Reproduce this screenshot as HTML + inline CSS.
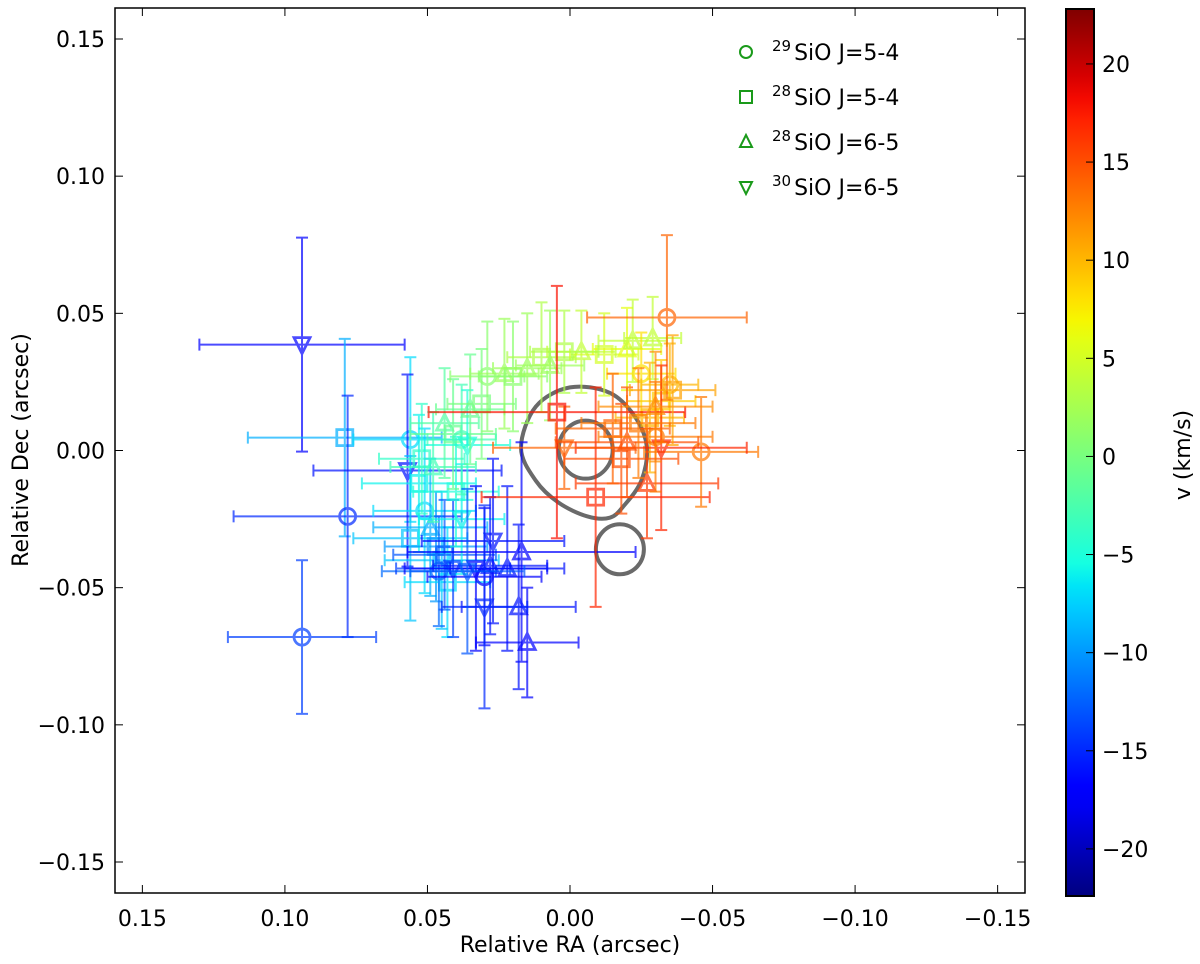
<!DOCTYPE html>
<html><head><meta charset="utf-8"><style>
html,body{margin:0;padding:0;background:#fff;}
svg{display:block;font-family:"DejaVu Sans","Liberation Sans",sans-serif;}
</style></head><body>
<svg id="chart" width="1200" height="964" xmlns="http://www.w3.org/2000/svg">
<defs>
<linearGradient id="jet" x1="0" y1="1" x2="0" y2="0"></linearGradient>
<clipPath id="pc"><rect x="115" y="8" width="910" height="885"/></clipPath>
</defs>
<g id="plot" clip-path="url(#pc)"></g>
<g id="axes"></g>
</svg>
<script>
const raVals =  [0.094,0.079,0.056,0.078,0.094,0.057,0.056,0.053,0.051,0.049,0.047,0.045,0.043,0.046,0.044,0.041,0.038,0.040,0.048,0.052,0.044,0.041,0.038,0.036,0.035,0.031,0.029,0.023,0.020,0.015,0.010,0.007,0.033,0.030,0.028,0.027,0.017,0.022,0.018,0.015,0.030,0.036,-0.004,-0.012,-0.020,-0.022,-0.029,0.002,-0.025,-0.035,-0.032,-0.028,-0.034,-0.009,-0.046,-0.027,-0.032,0.002,0.0046,-0.015,-0.020,-0.024,-0.030,-0.018,-0.036,-0.030];
const decVals = [0.0386,0.0047,0.004,-0.024,-0.068,-0.0073,-0.032,-0.012,-0.022,-0.028,-0.035,-0.040,-0.048,-0.044,-0.038,-0.043,-0.025,-0.015,-0.006,-0.003,0.010,0.006,0.004,0.002,0.015,0.017,0.027,0.028,0.027,0.030,0.034,0.031,-0.043,-0.046,-0.042,-0.033,-0.037,-0.043,-0.057,-0.070,-0.057,-0.044,0.036,0.035,0.037,0.040,0.041,0.036,0.028,0.024,0.018,0.012,0.0485,-0.017,-0.0005,-0.012,0.001,0.001,0.014,0.008,0.003,0.010,0.016,-0.003,0.022,0.005];
const velVals = [-17,-9,-7,-15,-14,-16,-8,-6,-7,-9,-10,-8,-7,-12,-13,-14,-6,-5,-3,-4,-2,-1,-3,-5,-1,0,1,2,1,2,3,2,-17,-17,-16,-16,-17,-16,-16,-17,-15,-13,4,5,6,4,4,3,8,10,9,10,14,17,13,16,17,14,18,14,15,13,12,15,11,13];
const markers = ['v','s','o','o','o','v','s','s','o','t','s','s','s','o','s','v','v','s','t','s','t','s','o','v','t','s','o','t','s','t','s','t','v','o','t','v','t','t','t','t','v','v','t','s','t','t','t','s','o','o','s','s','o','s','o','t','v','v','s','s','t','s','t','s','s','o'];
const raErr =  [0.036,0.034,0.020,0.040,0.026,0.033,0.020,0.02,0.018,0.02,0.018,0.02,0.015,0.02,0.018,0.02,0.015,0.015,0.015,0.015,0.012,0.015,0.012,0.015,0.012,0.012,0.013,0.012,0.012,0.012,0.012,0.012,0.025,0.02,0.02,0.025,0.04,0.02,0.02,0.018,0.015,0.02,0.012,0.012,0.012,0.012,0.01,0.012,0.012,0.01,0.012,0.012,0.028,0.04,0.02,0.025,0.03,0.025,0.045,0.02,0.025,0.02,0.02,0.02,0.015,0.02];
const decErr = [0.039,0.036,0.030,0.044,0.028,0.035,0.030,0.025,0.03,0.025,0.02,0.025,0.02,0.02,0.02,0.025,0.02,0.02,0.02,0.02,0.02,0.02,0.02,0.02,0.02,0.02,0.02,0.02,0.02,0.02,0.02,0.02,0.03,0.025,0.025,0.03,0.04,0.03,0.03,0.02,0.037,0.03,0.015,0.015,0.015,0.015,0.015,0.015,0.015,0.015,0.015,0.02,0.030,0.04,0.02,0.02,0.03,0.015,0.046,0.02,0.02,0.02,0.02,0.02,0.02,0.02];
const xTicks = [0.15,0.10,0.05,0.00,-0.05,-0.10,-0.15];
const yTicks = [0.15,0.10,0.05,0.00,-0.05,-0.10,-0.15];
const cTicks = [20,15,10,5,0,-5,-10,-15,-20];

const NS='http://www.w3.org/2000/svg';
const L=115,R=1025,T=8,B=893;
const XMIN=0.1596,XMAX=-0.1596,YMAX=0.1613,YMIN=-0.1613;
const VMIN=-22.4,VMAX=22.8,CT=9,CB=896;
function xS(v){return L+(XMIN-v)/(XMIN-XMAX)*(R-L);}
function yS(v){return T+(YMAX-v)/(YMAX-YMIN)*(B-T);}
function cS(v){return CT+(VMAX-v)/(VMAX-VMIN)*(CB-CT);}
function interp(segs,t){for(let i=1;i<segs.length;i++){if(t<=segs[i][0]){const a=segs[i-1],b=segs[i];return a[1]+(b[1]-a[1])*(t-a[0])/(b[0]-a[0]);}}return segs[segs.length-1][1];}
const RS=[[0,0],[0.35,0],[0.66,1],[0.89,1],[1,0.5]];
const GS=[[0,0],[0.125,0],[0.375,1],[0.64,1],[0.91,0],[1,0]];
const BS=[[0,0.5],[0.11,1],[0.34,1],[0.65,0],[1,0]];
function jetT(t){t=Math.max(0,Math.min(1,t));const c=x=>Math.round(255*x);return `rgb(${c(interp(RS,t))},${c(interp(GS,t))},${c(interp(BS,t))})`;}
function jet(v){return jetT((v-VMIN)/(VMAX-VMIN));}
function mk(tag,attrs,parent){const e=document.createElementNS(NS,tag);for(const k in attrs)e.setAttribute(k,attrs[k]);parent.appendChild(e);return e;}
const grad=document.getElementById('jet');
for(let i=0;i<=40;i++){mk('stop',{offset:i/40,'stop-color':jetT(i/40)},grad);}
const plot=document.getElementById('plot'),axes=document.getElementById('axes');

// contours
const cg=mk('g',{fill:'none',stroke:'#6a6a6a','stroke-width':4},plot);


const outer=[[0.0172,0.001],[0.012,0.016],[0.000,0.023],[-0.014,0.021],[-0.023,0.012],[-0.027,0.001],[-0.025,-0.011],[-0.019,-0.020],[-0.014,-0.0245],[-0.006,-0.024],[0.004,-0.019],[0.012,-0.011]];
function smooth(pts){
  const P=pts.map(p=>[xS(p[0]),yS(p[1])]);const n=P.length;let d=`M${P[0][0].toFixed(1)},${P[0][1].toFixed(1)}`;
  for(let i=0;i<n;i++){const p0=P[(i-1+n)%n],p1=P[i],p2=P[(i+1)%n],p3=P[(i+2)%n];
    const c1=[p1[0]+(p2[0]-p0[0])/6,p1[1]+(p2[1]-p0[1])/6],c2=[p2[0]-(p3[0]-p1[0])/6,p2[1]-(p3[1]-p1[1])/6];
    d+=` C${c1[0].toFixed(1)},${c1[1].toFixed(1)} ${c2[0].toFixed(1)},${c2[1].toFixed(1)} ${p2[0].toFixed(1)},${p2[1].toFixed(1)}`;}
  return d+'Z';}
const p1=mk('path',{d:smooth(outer)},cg);


const c2=mk('ellipse',{cx:xS(-0.0055),cy:yS(0.0003),rx:27,ry:29},cg);


const c3=mk('ellipse',{cx:xS(-0.0175),cy:yS(-0.036),rx:24,ry:25},cg);



function marker(type,cx,cy,col,g,legend){
  const s=legend?6:8;let e;
  const a={fill:'none',stroke:col,'stroke-width':legend?2:2.8};
  if(type==='o')e=mk('circle',Object.assign({cx:cx,cy:cy,r:s},a),g);
  else if(type==='s')e=mk('rect',Object.assign({x:cx-s,y:cy-s,width:2*s,height:2*s},a),g);
  else if(type==='t')e=mk('polygon',Object.assign({points:`${cx},${cy-s-1} ${cx-s},${cy+s-1} ${cx+s},${cy+s-1}`},a),g);
  else e=mk('polygon',Object.assign({points:`${cx},${cy+s+1} ${cx-s},${cy-s+1} ${cx+s},${cy-s+1}`},a),g);
  return e;
}
for(let i=0;i<raVals.length;i++){
  const col=jet(velVals[i]);
  const g=mk('g',{opacity:0.7,stroke:col,'stroke-width':2},plot);
  
  
  const x=xS(raVals[i]),y=yS(decVals[i]);
  const x1=xS(raVals[i]+raErr[i]),x2=xS(raVals[i]-raErr[i]);
  const y1=yS(decVals[i]+decErr[i]),y2=yS(decVals[i]-decErr[i]);
  mk('line',{x1:x1,y1:y,x2:x2,y2:y},g);
  mk('line',{x1:x,y1:y1,x2:x,y2:y2},g);
  mk('line',{x1:x1,y1:y-6,x2:x1,y2:y+6},g);mk('line',{x1:x2,y1:y-6,x2:x2,y2:y+6},g);
  mk('line',{x1:x-6,y1:y1,x2:x+6,y2:y1},g);mk('line',{x1:x-6,y1:y2,x2:x+6,y2:y2},g);
  const m=marker(markers[i],x,y,col,g,false);
  
  
}

const fr=mk('rect',{x:L,y:T,width:R-L,height:B-T,fill:'none',stroke:'#000','stroke-width':1.5},axes);


xTicks.forEach(v=>{
  const x=xS(v);
  mk('line',{x1:x,y1:B,x2:x,y2:B-8,stroke:'#000','stroke-width':1},axes);
  mk('line',{x1:x,y1:T,x2:x,y2:T+8,stroke:'#000','stroke-width':1},axes);
  const t=mk('text',{x:x,y:B+33,'font-size':22,'text-anchor':'middle',fill:'#000'},axes);
  t.textContent=(v<0?'\u2212':'')+Math.abs(v).toFixed(2);
  
  
});
yTicks.forEach(v=>{
  const y=yS(v);
  mk('line',{x1:L,y1:y,x2:L+8,y2:y,stroke:'#000','stroke-width':1},axes);
  mk('line',{x1:R,y1:y,x2:R-8,y2:y,stroke:'#000','stroke-width':1},axes);
  const t=mk('text',{x:L-10,y:y+8,'font-size':22,'text-anchor':'end',fill:'#000'},axes);
  t.textContent=(v<0?'\u2212':'')+Math.abs(v).toFixed(2);
  
  
});
const xt=mk('text',{x:570,y:952,'font-size':22,'text-anchor':'middle',fill:'#000'},axes);
xt.textContent='Relative RA (arcsec)';


const yt=mk('text',{x:0,y:0,'font-size':22,'text-anchor':'middle',fill:'#000',transform:'translate(28,450) rotate(-90)'},axes);
yt.textContent='Relative Dec (arcsec)';



const cb=mk('g',{},axes);


mk('rect',{x:1066,y:CT,width:28,height:CB-CT,fill:'url(#jet)',stroke:'#000','stroke-width':2},cb);
cTicks.forEach(v=>{
  const y=cS(v);
  mk('line',{x1:1086,y1:y,x2:1094,y2:y,stroke:'#000','stroke-width':1},cb);
  const t=mk('text',{x:1102,y:y+8,'font-size':22,fill:'#000'},cb);
  t.textContent=(v<0?'\u2212':'')+Math.abs(v);
  
  
});
const ct=mk('text',{x:0,y:0,'font-size':22,'text-anchor':'middle',fill:'#000',transform:'translate(1190,455) rotate(-90)'},cb);
ct.textContent='v (km/s)';



const legLabels=[['29','SiO J=5-4','o'],['28','SiO J=5-4','s'],['28','SiO J=6-5','t'],['30','SiO J=6-5','v']];
legLabels.forEach((l,i)=>{
  const y=52+i*45;
  const g=mk('g',{},axes);
  
  
  marker(l[2],746,y,'#1a9a1a',g,true);
  const t=mk('text',{x:772,y:y+8,'font-size':22,fill:'#000'},g);
  const sup=mk('tspan',{'font-size':15,dy:-9},t);sup.textContent=l[0];
  const rest=mk('tspan',{dy:9,dx:3},t);rest.textContent=l[1];
});
</script>
</body></html>
